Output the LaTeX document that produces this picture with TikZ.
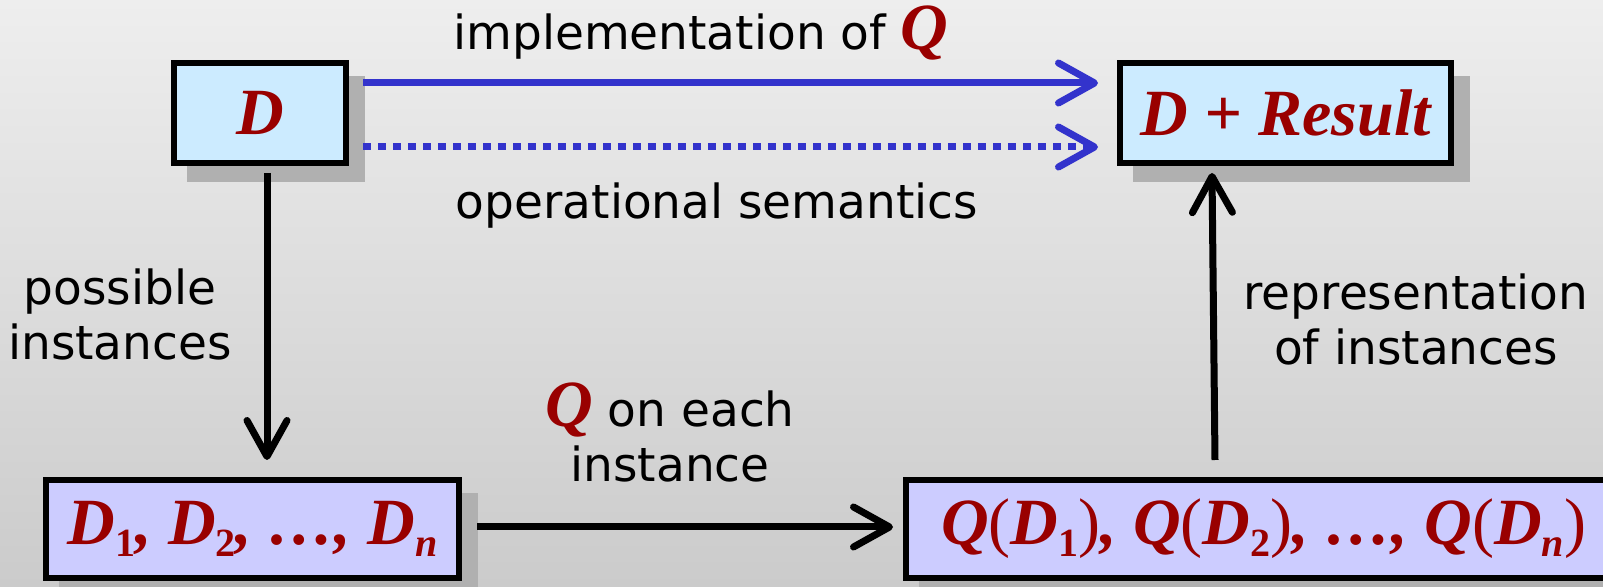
\documentclass[tikz,border=0pt]{standalone}
\usepackage{fontspec}
\setmainfont{DejaVu Sans}
\newfontfamily\rfont{Liberation Serif}
\usetikzlibrary{arrows.meta,shadows}
\definecolor{dred}{HTML}{990000}
\definecolor{lblue}{HTML}{CCEBFF}
\definecolor{lviolet}{HTML}{CCCCFF}
\definecolor{abl}{HTML}{3333CC}
\definecolor{shd}{HTML}{B0B0B0}
\definecolor{bgtop}{HTML}{EEEEEE}
\definecolor{bgbot}{HTML}{CBCBCB}
\newcommand{\rt}[1]{{\rfont\bfseries\itshape\fontsize{33}{27.5}\selectfont\color{dred}#1}}
\newcommand{\sbs}[1]{\raisebox{-0.18em}{\fontsize{20}{20}\selectfont #1}}
\newcommand{\pl}{{\mdseries\upshape(}}
\newcommand{\pr}{{\mdseries\upshape)}}
\tikzset{
  box/.style={draw=black, line width=3pt, minimum height=50pt, inner sep=0pt,
    font=\rfont\bfseries\itshape\fontsize{33}{36}\selectfont, text=dred,
    copy shadow={shadow xshift=8pt, shadow yshift=-8pt, fill=shd, draw=shd}},
  arr/.style={line width=3.5pt, -{Straight Barb[length=18pt,width=20pt,round]}},
  lbl/.style={font=\fontsize{23.5}{27.5}\selectfont, inner sep=0pt, align=center}
}
\begin{document}
\begin{tikzpicture}[x=0.5pt,y=-0.5pt]
\clip (0,0) rectangle (1603,587);
\shade[top color=bgtop,bottom color=bgbot] (0,0) rectangle (1603,587);
% boxes
\node[box, fill=lblue, minimum width=86pt] (D) at (260,113) {D};
\node[box, fill=lblue, minimum width=165.5pt] (R) at (1285.5,113) {D + Result};
\node[box, fill=lviolet, minimum width=206.5pt, minimum height=49pt] (DI) at (252.5,529)
  {D\sbs{\upshape 1}, D\sbs{\upshape 2}, …, D\sbs{n}};
\node[box, fill=lviolet, minimum height=49pt, anchor=west, inner xsep=17.5pt] (QD) at (903,529)
  {\makebox[323.5pt][l]{Q\pl D\sbs{\upshape 1}\pr, Q\pl D\sbs{\upshape 2}\pr, …, Q\pl D\sbs{n}\pr}};
% arrows
\draw[arr, abl] ([shift={(14,-30)}]D.east) -- ([shift={(-19,-30)}]R.west);
\draw[arr, abl, dash pattern=on 4pt off 3.5pt] ([shift={(14,34)}]D.east) -- ([shift={(-19,34)}]R.west);
\draw[arr] ([shift={(7,7)}]D.south) -- ([shift={(14.5,-17)}]DI.north);
\draw[arr] ([shift={(-49.5,-17)}]QD.north) -- ([shift={(-73.5,7)}]R.south);
\draw[arr] ([shift={(15,-2)}]DI.east) -- ([shift={(-10,-2)}]QD.west);
% labels
\node[lbl, anchor=base] (l1) at (701,50) {implementation of \rt{Q}};
\node[lbl, anchor=base] (l2) at (717,219) {operational semantics};
\node[lbl, anchor=base] (l3) at (120,360) {possible\\instances};
\node[lbl, anchor=base] (l4) at (670,482) {\rt{Q} on each\\instance};
\node[lbl, anchor=base] (l5) at (1416,365) {representation\\of instances};
\end{tikzpicture}
\end{document}
